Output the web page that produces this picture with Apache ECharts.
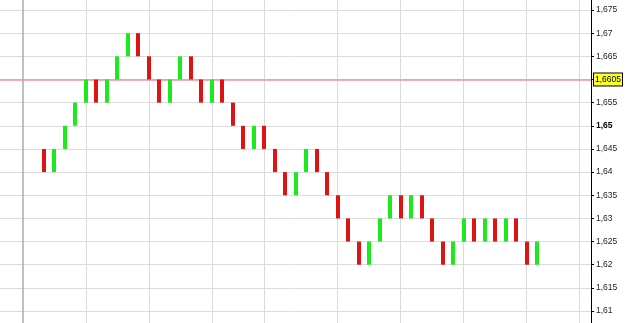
<!DOCTYPE html>
<html>
<head>
<meta charset="utf-8">
<script src="https://cdn.jsdelivr.net/npm/echarts@6/dist/echarts.min.js"></script>
<style>
html,body{margin:0;padding:0;background:#fff;}
#chart{width:625px;height:323px;}
</style>
</head>
<body>
<div id="chart"></div>
<script>
// Renko bricks: open and close of each brick, in order
var brickOpen  = [1.645,1.640,1.645,1.650,1.655,1.660,1.655,1.660,1.665,1.670,1.665,1.660,1.655,1.660,1.665,1.660,1.655,1.660,1.655,1.650,1.645,1.650,1.645,1.640,1.635,1.640,1.645,1.640,1.635,1.630,1.625,1.620,1.625,1.630,1.635,1.630,1.635,1.630,1.625,1.620,1.625,1.630,1.625,1.630,1.625,1.630,1.625,1.620];
var brickClose = [1.640,1.645,1.650,1.655,1.660,1.655,1.660,1.665,1.670,1.665,1.660,1.655,1.660,1.665,1.660,1.655,1.660,1.655,1.650,1.645,1.650,1.645,1.640,1.635,1.640,1.645,1.640,1.635,1.630,1.625,1.620,1.625,1.630,1.635,1.630,1.635,1.630,1.625,1.620,1.625,1.630,1.625,1.630,1.625,1.630,1.625,1.620,1.625];
// Brick-index positions of the vertical time separators
var timeBreaks = [-2, 4, 10, 16, 21, 28, 34, 40, 46, 51];
// Current price
var lastPrice = 1.6605;
var lastPriceLabel = '1,6605';
var boldTick = 1.65;

var UP = '#1ee81e', DOWN = '#dc1414';
var FONT = 'Liberation Sans, Arial, sans-serif';

var data = brickOpen.map(function (o, i) { return [i, o, brickClose[i]]; });

var vLines = timeBreaks.map(function (k, i) {
  return {
    xAxis: k,
    lineStyle: i === 0 ? { color: '#ababab', width: 1.5, type: 'solid' } : { color: '#dadada', width: 1, type: 'solid' }
  };
});

function fmt(v) {
  var n = parseFloat(Number(v).toFixed(4));
  var s = String(n).replace('.', ',');
  if (Math.abs(n - boldTick) < 1e-7) return '{b|' + s + '}';
  return s;
}

var chart = echarts.init(document.getElementById('chart'), null, { renderer: 'canvas' });
chart.setOption({
  animation: false,
  backgroundColor: '#ffffff',
  grid: { left: 0, right: 34, top: -13.15, bottom: -11.2, outerBoundsMode: 'none', containLabel: false },
  xAxis: {
    type: 'value', min: -4.194, max: 52.146, show: false,
    axisLine: { onZero: false },
    splitLine: { show: false }
  },
  yAxis: {
    type: 'value', position: 'right', min: 1.605, max: 1.68, interval: 0.005,
    axisLine: { show: true, onZero: false, lineStyle: { color: '#000', width: 1 } },
    axisTick: { show: true, length: 3, lineStyle: { color: '#000' } },
    axisLabel: {
      margin: 5, fontSize: 8.5, color: '#222', fontFamily: FONT,
      formatter: fmt,
      rich: { b: { fontWeight: 'bold', fontSize: 8.5, color: '#000', fontFamily: FONT } }
    },
    splitLine: { show: true, lineStyle: { color: '#dcdcdc', width: 1 } }
  },
  series: [{
    type: 'custom',
    z: 3,
    data: data,
    encode: { x: 0, y: [1, 2] },
    renderItem: function (params, api) {
      var x = api.value(0), o = api.value(1), c = api.value(2);
      var top = api.coord([x, Math.max(o, c)]);
      var bot = api.coord([x, Math.min(o, c)]);
      return {
        type: 'rect',
        shape: { x: Math.round(top[0]) - 2, y: top[1], width: 4, height: bot[1] - top[1] },
        style: { fill: c > o ? UP : DOWN }
      };
    },
    markLine: {
      silent: true, symbol: 'none', z: 1, animation: false,
      label: { show: false },
      data: vLines
    }
  }, {
    type: 'line',
    data: [],
    z: 2,
    markLine: {
      silent: true, symbol: 'none', z: 2, animation: false,
      lineStyle: { color: '#f0919c', width: 1.5, type: 'solid' },
      label: {
        show: true, position: 'end', distance: 3, formatter: lastPriceLabel,
        backgroundColor: '#ffff2a', borderColor: '#000', borderWidth: 1,
        padding: [2, 1, 1, 1], fontSize: 8.5, color: '#000', fontFamily: FONT
      },
      data: [{ yAxis: lastPrice }]
    }
  }]
});
</script>
</body>
</html>
